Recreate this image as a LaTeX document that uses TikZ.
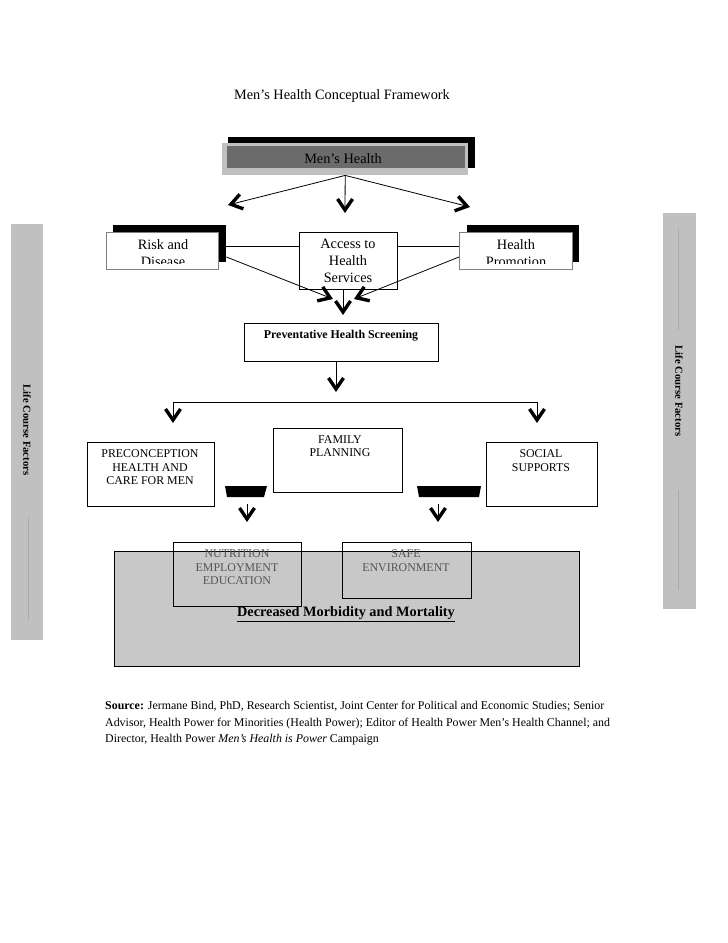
\documentclass[tikz,border=0pt]{standalone}
\usepackage{fontspec}
\setmainfont{Liberation Serif}
\usetikzlibrary{arrows.meta}
\definecolor{lgray}{HTML}{C0C0C0}
\definecolor{dgray}{HTML}{6B6B6B}
\definecolor{bgray}{HTML}{C8C8C8}
\definecolor{tgray}{HTML}{555555}
\definecolor{fline}{HTML}{AAAAAA}
\begin{document}
\begin{tikzpicture}[x=1pt,y=-1pt,
  chev/.style={-{Straight Barb[length=11pt,width=15pt,line width=3.4pt]}, line width=0.8pt},
  conn/.style={line width=0.8pt},
  box/.style={draw, line width=0.8pt, fill=white, inner sep=0pt, anchor=north west},
  shadowbox/.style={fill=black, inner sep=0pt, anchor=north west},
  sidebar/.style={fill=lgray, inner sep=0pt, anchor=north west},
  big/.style={font=\fontsize{14.3}{17}\selectfont, align=center, inner sep=0pt},
  caps/.style={font=\fontsize{11.9}{13.5}\selectfont, align=center, inner sep=0pt},
  side/.style={font=\fontsize{10.7}{12}\selectfont\bfseries, rotate=-90, inner sep=0pt}
]
\useasboundingbox (0,0) rectangle (728,943);

% title
\node[big] (title) at (342,96) {Men’s Health Conceptual Framework};

% side bars
\node[sidebar, minimum width=32pt, minimum height=416pt] (lbar) at (11,224) {};
\node[side] (ltext) at (27,430) {Life Course Factors};
\draw[fline, line width=0.4pt] (28,517) -- (28,620);
\node[sidebar, minimum width=33pt, minimum height=396pt] (rbar) at (663,213) {};
\node[side] (rtext) at (679,391) {Life Course Factors};
\draw[fline, line width=0.4pt] (678,228) -- (678,330);
\draw[fline, line width=0.4pt] (678,490) -- (678,590);

% Men's Health
\node[shadowbox, minimum width=247pt, minimum height=31pt] (mhs) at (228,137) {};
\node[fill=lgray, inner sep=0pt, anchor=north west, minimum width=246pt, minimum height=32pt] (mh) at (222,143) {};
\node[fill=dgray, inner sep=0pt, anchor=north west, minimum width=238pt, minimum height=22pt] (mhi) at (227,146) {};
\node[big] (mht) at (343,159) {Men’s Health};

\coordinate (c1) at (228,205);
\coordinate (c2) at (345,213);
\coordinate (c3) at (470,207);
\draw[chev] (mh.south) -- (c1);
\draw[chev] (mh.south) -- (c2);
\draw[chev] (mh.south) -- (c3);

% Risk and Disease
\node[shadowbox, minimum width=113pt, minimum height=37pt] (rs) at (113,225) {};
\node[box, draw=gray, minimum width=112pt, minimum height=37pt] (risk) at (106,232) {};
\begin{scope}
\clip (106,232) rectangle (218,263.5);
\node[big] (riskt) at (163,253.5) {Risk and\\Disease};
\end{scope}

% Health Promotion
\node[shadowbox, minimum width=112pt, minimum height=37pt] (hps) at (467,225) {};
\node[box, draw=gray, minimum width=113pt, minimum height=37pt] (hp) at (459,232) {};
\begin{scope}
\clip (459,232) rectangle (572,263.5);
\node[big] (hpt) at (516,253.5) {Health\\Promotion};
\end{scope}

% Access
\node[box, minimum width=98pt, minimum height=57pt] (acc) at (299,232) {};
\node[big] (acct) at (348,261) {Access to\\Health\\Services};

\draw[conn] (rs.east |- 0,246) -- (acc.west |- 0,246);
\draw[conn] (acc.east |- 0,246) -- (hp.west |- 0,246);

\coordinate (a1) at (333,299);
\coordinate (a2) at (354,299);
\coordinate (a3) at (343,315);
\draw[chev] (rs.east |- 0,257) -- (a1);
\draw[chev] (hp.west |- 0,257) -- (a2);
\draw[chev] (a3 |- acc.south) -- (a3);

% Preventative
\node[box, minimum width=194pt, minimum height=38pt] (prev) at (244,323) {};
\node[font=\fontsize{11.9}{13}\selectfont\bfseries, inner sep=0pt] (prevt) at (341,336) {Preventative Health Screening};
\coordinate (p1) at (336,392);
\draw[chev] (p1 |- prev.south) -- (p1);

% bar
\coordinate (b1) at (173,402);
\coordinate (b2) at (537,402);
\coordinate (b3) at (173,423);
\coordinate (b4) at (537,423);
\draw[conn] (b1) -- (b2);
\draw[chev] (b1) -- (b3);
\draw[chev] (b2) -- (b4);

% middle row
\node[box, minimum width=127pt, minimum height=64pt] (pre) at (87,442) {};
\node[caps] (pret) at (150,467.5) {PRECONCEPTION\\HEALTH AND\\CARE FOR MEN};
\node[box, minimum width=129pt, minimum height=64pt] (fam) at (273,428) {};
\node[caps] (famt) at (340,446) {FAMILY\\PLANNING};
\node[box, minimum width=111pt, minimum height=64pt] (soc) at (486,442) {};
\node[caps] (soct) at (541,460.5) {SOCIAL\\SUPPORTS};

% trapezoids
\fill[black] (225,486) -- (267,486) -- (264,497) -- (227,497) -- cycle;
\fill[black] (417,486) -- (481,486) -- (479,497) -- (419,497) -- cycle;
\coordinate (t1) at (247,504);
\coordinate (d1) at (247,522);
\coordinate (t2) at (438,504);
\coordinate (d2) at (438,522);
\draw[chev] (t1) -- (d1);
\draw[chev] (t2) -- (d2);

% bottom
\node[box, fill=bgray, minimum width=465pt, minimum height=115pt] (out) at (114,551) {};
\node[draw, line width=0.8pt, inner sep=0pt, anchor=north west, minimum width=128pt, minimum height=64pt] (nut) at (173,542) {};
\node[caps, text=tgray] (nutt) at (237,567.5) {NUTRITION\\EMPLOYMENT\\EDUCATION};
\node[draw, line width=0.8pt, inner sep=0pt, anchor=north west, minimum width=129pt, minimum height=56pt] (safe) at (342,542) {};
\node[caps, text=tgray] (safet) at (406,560.5) {SAFE\\ENVIRONMENT};
\node[font=\fontsize{14.3}{16}\selectfont\bfseries, inner sep=0pt] (dec) at (346,614) {\underline{Decreased Morbidity and Mortality}};

% source
\node[anchor=north west, align=left, inner sep=0pt, font=\fontsize{11.9}{16.5}\selectfont] (src) at (105,701) {\textbf{Source:} Jermane Bind, PhD, Research Scientist, Joint Center for Political and Economic Studies; Senior\\Advisor, Health Power for Minorities (Health Power); Editor of Health Power Men’s Health Channel; and\\Director, Health Power \textit{Men’s Health is Power} Campaign};
\end{tikzpicture}
\end{document}
